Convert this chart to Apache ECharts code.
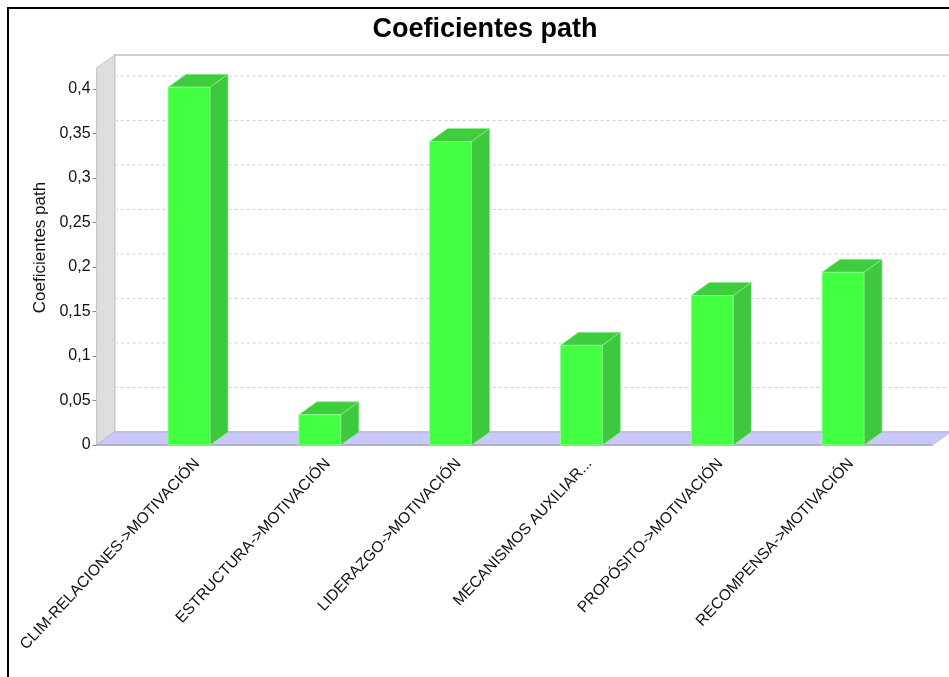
<!DOCTYPE html>
<html>
<head>
<meta charset="utf-8">
<script src="https://cdn.jsdelivr.net/npm/echarts@6/dist/echarts.min.js"></script>
<style>
html,body{margin:0;padding:0;background:#fff;}
#chart{width:949px;height:677px;}
</style>
</head>
<body>
<div id="chart"></div>
<script>
// ---- data ----
var categories = [
  'CLIM-RELACIONES->MOTIVACIÓN',
  'ESTRUCTURA->MOTIVACIÓN',
  'LIDERAZGO->MOTIVACIÓN',
  'MECANISMOS AUXILIAR...',
  'PROPÓSITO->MOTIVACIÓN',
  'RECOMPENSA->MOTIVACIÓN'
];
var values = [0.402, 0.034, 0.341, 0.112, 0.168, 0.194];
var yTicks = [0, 0.05, 0.1, 0.15, 0.2, 0.25, 0.3, 0.35, 0.4];
var yMax = 0.4236;
var titleText = 'Coeficientes path';
var yAxisName = 'Coeficientes path';

// ---- 3D look parameters ----
var DX = 18, DY = -13;       // depth offset
var AXIS_OFFSET = 27;        // front y-axis is left of first category band
var RIGHT_EXT = 24;          // floor extends right of last band
var FONT = "'Liberation Sans', Arial, sans-serif";

var chart = echarts.init(document.getElementById('chart'), null, {renderer: 'canvas'});

function backdrop(params, api) {
  var cs = params.coordSys;
  var ax = cs.x - AXIS_OFFSET;
  var rx = cs.x + cs.width + RIGHT_EXT;
  var y0 = api.coord([0, 0])[1];
  var yt = cs.y;
  var children = [];
  // back wall
  children.push({type: 'polygon', shape: {points: [[ax + DX, yt + DY], [rx + DX + 40, yt + DY], [rx + DX + 40, y0 + DY], [ax + DX, y0 + DY]]},
    style: {fill: '#ffffff', stroke: '#c0c0c0', lineWidth: 1.5}});
  // left wall
  children.push({type: 'polygon', shape: {points: [[ax, y0], [ax, yt], [ax + DX, yt + DY], [ax + DX, y0 + DY]]},
    style: {fill: '#dddddd', stroke: '#c8c8c8', lineWidth: 1}});
  // gridlines
  yTicks.forEach(function (v) {
    if (v === 0) return;
    var y = api.coord([0, v])[1];
    children.push({type: 'line', shape: {x1: ax + DX, y1: y + DY, x2: rx + DX + 40, y2: y + DY},
      style: {stroke: '#d0d0d0', lineWidth: 1, lineDash: [3, 3]}});
    children.push({type: 'line', shape: {x1: ax, y1: y, x2: ax + DX, y2: y + DY},
      style: {stroke: '#e8e8e8', lineWidth: 1, lineDash: [2, 2]}});
  });
  // floor
  children.push({type: 'polygon', shape: {points: [[ax, y0], [rx, y0], [rx + DX, y0 + DY], [ax + DX, y0 + DY]]},
    style: {fill: '#c8c8fa', stroke: '#b4b4dc', lineWidth: 1}});
  children.push({type: 'line', shape: {x1: ax, y1: y0, x2: rx, y2: y0},
    style: {stroke: '#a8a8b8', lineWidth: 1.5}});
  return {type: 'group', children: children};
}

function bar3d(params, api) {
  var idx = api.value(0);
  var v = api.value(1);
  var top = api.coord([idx, v]);
  var base = api.coord([idx, 0]);
  var w = api.size([1, 0])[0] * 0.32;
  var x = top[0] - w / 2;
  var yTop = top[1], yB = base[1];
  return {type: 'group', children: [
    {type: 'polygon', shape: {points: [[x + w, yTop], [x + w + DX, yTop + DY], [x + w + DX, yB + DY], [x + w, yB]]},
      style: {fill: '#3ec83e', stroke: 'rgba(120,230,120,0.6)', lineWidth: 1}},
    {type: 'polygon', shape: {points: [[x, yTop], [x + DX, yTop + DY], [x + w + DX, yTop + DY], [x + w, yTop]]},
      style: {fill: '#3fcc3f', stroke: 'rgba(140,240,140,0.7)', lineWidth: 1}},
    {type: 'rect', shape: {x: x, y: yTop, width: w, height: yB - yTop},
      style: {fill: '#42ff42', stroke: 'rgba(150,255,150,0.8)', lineWidth: 1}}
  ]};
}

var gridA = {left: 123.6, right: 40.6, top: 68, bottom: 232};
var option = {
  backgroundColor: '#ffffff',
  animation: false,
  title: {
    text: titleText, left: 480, top: 11, textAlign: 'center',
    textStyle: {fontFamily: FONT, fontWeight: 'bold', fontSize: 27, color: '#000'}
  },
  graphic: [{type: 'rect', shape: {x: 8, y: 8, width: 980, height: 700}, silent: true,
    style: {fill: 'none', stroke: '#000', lineWidth: 2}}],
  grid: [gridA, {left: 131.6, right: 32.6, top: 68, bottom: 232}],
  xAxis: [{
    type: 'category', gridIndex: 0, data: categories,
    axisLine: {show: false}, axisTick: {show: false}, axisLabel: {show: false}, splitLine: {show: false}
  }, {
    type: 'category', gridIndex: 1, data: categories,
    axisLine: {show: false}, axisTick: {show: false}, splitLine: {show: false},
    axisLabel: {rotate: 47, margin: 16, interval: 0, fontFamily: FONT, fontSize: 15.6, color: '#111'}
  }],
  yAxis: [{
    type: 'value', gridIndex: 0, min: 0, max: yMax, offset: AXIS_OFFSET,
    name: yAxisName, nameLocation: 'middle', nameRotate: 90, nameGap: 45,
    nameTextStyle: {fontFamily: FONT, fontSize: 17, color: '#111', padding: [0, 0, 0, 18]},
    axisLine: {show: true, lineStyle: {color: '#999'}},
    axisTick: {show: true, length: 4, customValues: yTicks, lineStyle: {color: '#888'}},
    axisLabel: {customValues: yTicks, fontFamily: FONT, fontSize: 16, color: '#111', margin: 6,
      formatter: function (v) { return String(v).replace('.', ','); }},
    splitLine: {show: false}
  }, {
    type: 'value', gridIndex: 1, min: 0, max: yMax, show: false
  }],
  series: [{
    type: 'custom', xAxisIndex: 0, yAxisIndex: 0, data: [[0, 0]], renderItem: backdrop, silent: true, z: 1
  }, {
    type: 'custom', xAxisIndex: 0, yAxisIndex: 0, z: 2,
    data: values.map(function (v, i) { return [i, v]; }),
    encode: {x: 0, y: 1},
    renderItem: bar3d
  }]
};
chart.setOption(option);
</script>
</body>
</html>
